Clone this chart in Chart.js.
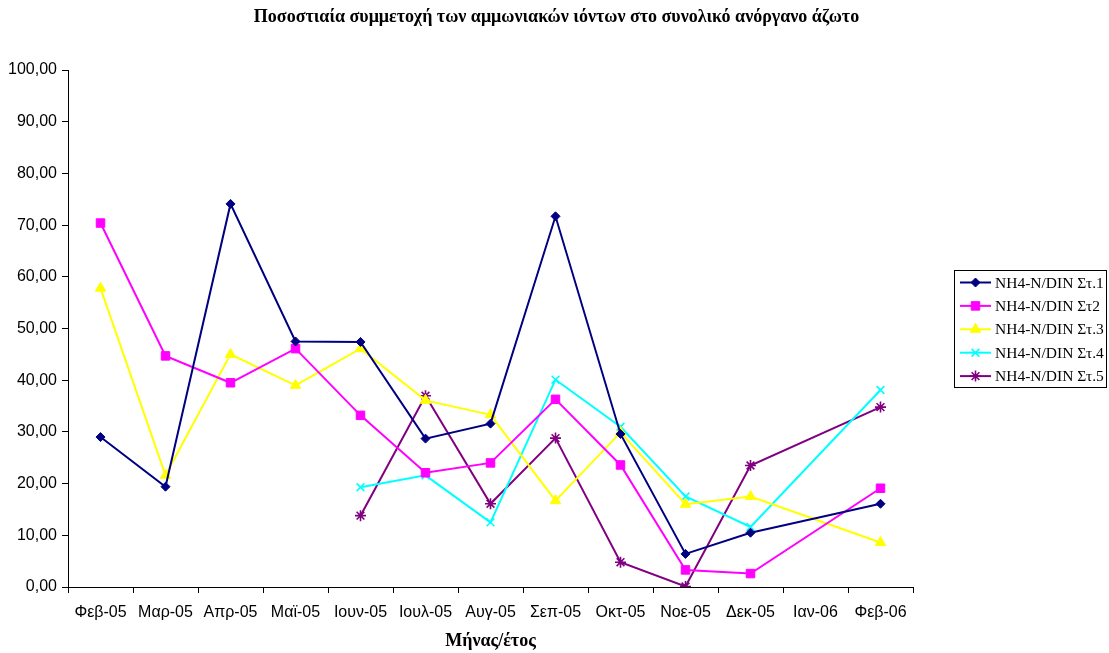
<!DOCTYPE html>
<html>
<head>
<meta charset="utf-8">
<title>NH4-N/DIN</title>
<script src="https://cdn.jsdelivr.net/npm/chart.js@4/dist/chart.umd.min.js"></script>
<style>
  html, body { margin: 0; padding: 0; background: #ffffff; }
  #wrap { width: 1109px; height: 653px; position: relative; }
</style>
</head>
<body>
<div id="wrap"><canvas id="c" width="1109" height="653"></canvas></div>
<script>
// Months (month/year) on the category axis
const months = ['Φεβ-05', 'Μαρ-05', 'Απρ-05', 'Μαϊ-05', 'Ιουν-05', 'Ιουλ-05', 'Αυγ-05',
                'Σεπ-05', 'Οκτ-05', 'Νοε-05', 'Δεκ-05', 'Ιαν-06', 'Φεβ-06'];

// Percentage of ammonium in total dissolved inorganic nitrogen, per station
const st1 = [29.0, 19.4, 74.1, 47.5, 47.4, 28.7, 31.6, 71.7, 29.6, 6.4, 10.5, null, 16.1];
const st2 = [70.4, 44.7, 39.5, 46.1, 33.2, 22.1, 24.0, 36.3, 23.6, 3.3, 2.6, null, 19.1];
const st3 = [57.8, 21.6, 45.0, 39.0, 46.1, 36.1, 33.3, 16.7, 29.9, 16.0, 17.5, null, 8.6];
const st4 = [null, null, null, null, 19.3, 21.6, 12.5, 40.1, 31.0, 17.5, 11.6, null, 38.1];
const st5 = [null, null, null, null, 13.8, 37.0, 16.1, 28.8, 4.8, 0.1, 23.5, null, 34.8];

const seriesNames = ['NH4-N/DIN Στ.1', 'NH4-N/DIN Στ2', 'NH4-N/DIN Στ.3', 'NH4-N/DIN Στ.4', 'NH4-N/DIN Στ.5'];

const yTicks = { min: 0, max: 100, step: 10 };

const chartTitle = 'Ποσοστιαία συμμετοχή των αμμωνιακών ιόντων στο συνολικό ανόργανο άζωτο';
const xAxisTitle = 'Μήνας/έτος';

const SERIF = '"Liberation Serif", "Times New Roman", serif';
const SANS = '"Liberation Sans", Arial, sans-serif';

const styles = [
  { color: '#000080', pointStyle: 'rectRot', radius: 4.5, pointBorderWidth: 1 },
  { color: '#FF00FF', pointStyle: 'rect', radius: 6, pointBorderWidth: 1 },
  { color: '#FFFF00', pointStyle: 'triangle', radius: 6, pointBorderWidth: 1 },
  { color: '#00FFFF', pointStyle: 'crossRot', radius: 5.5, pointBorderWidth: 1.6 },
  { color: '#800080', pointStyle: 'star', radius: 5.5, pointBorderWidth: 1.6 }
];

const values = [st1, st2, st3, st4, st5];

const datasets = values.map((data, i) => ({
  label: seriesNames[i],
  data: data,
  borderColor: styles[i].color,
  backgroundColor: styles[i].color,
  pointBackgroundColor: styles[i].color,
  pointBorderColor: styles[i].color,
  pointStyle: styles[i].pointStyle,
  pointRadius: styles[i].radius,
  pointHoverRadius: styles[i].radius,
  pointBorderWidth: styles[i].pointBorderWidth,
  borderWidth: 2,
  tension: 0,
  spanGaps: true,
  fill: false
}));

// Title, x-axis title and the boxed legend on the right
const decorations = {
  id: 'decorations',
  afterDraw(chart) {
    const ctx = chart.ctx;
    const area = chart.chartArea;
    ctx.save();
    ctx.fillStyle = '#000000';
    ctx.textAlign = 'center';
    ctx.textBaseline = 'middle';
    ctx.font = 'bold 18px ' + SERIF;
    ctx.fillText(chartTitle, chart.width / 2 + 2, 17);
    ctx.font = 'bold 18px ' + SERIF;
    ctx.fillText(xAxisTitle, (area.left + area.right) / 2, area.bottom + 54);

    // legend
    const box = { x: 954.5, y: 270.5, w: 152, h: 117 };
    ctx.fillStyle = '#ffffff';
    ctx.fillRect(box.x, box.y, box.w, box.h);
    ctx.strokeStyle = '#000000';
    ctx.lineWidth = 1;
    ctx.strokeRect(box.x, box.y, box.w, box.h);
    const rowH = 23.4;
    const y0 = box.y + 12;
    ctx.textAlign = 'left';
    ctx.font = '15.5px ' + SERIF;
    chart.data.datasets.forEach((ds, i) => {
      const y = y0 + i * rowH;
      ctx.strokeStyle = ds.borderColor;
      ctx.lineWidth = 2;
      ctx.beginPath();
      ctx.moveTo(960, y);
      ctx.lineTo(991, y);
      ctx.stroke();
      ctx.fillStyle = ds.pointBackgroundColor;
      ctx.strokeStyle = ds.pointBorderColor;
      ctx.lineWidth = ds.pointBorderWidth;
      Chart.helpers.drawPoint(ctx, {
        pointStyle: ds.pointStyle,
        radius: ds.pointRadius,
        rotation: 0,
        borderWidth: ds.pointBorderWidth
      }, 975.5, y);
      ctx.fillStyle = '#000000';
      ctx.fillText(ds.label, 995, y + 1);
    });
    ctx.restore();
  }
};

new Chart(document.getElementById('c'), {
  type: 'line',
  data: { labels: months, datasets: datasets },
  options: {
    responsive: false,
    animation: false,
    devicePixelRatio: 1,
    layout: { padding: { left: 0, right: 196, top: 70, bottom: 0 } },
    plugins: {
      legend: { display: false },
      title: { display: false },
      tooltip: { enabled: false }
    },
    scales: {
      x: {
        type: 'category',
        offset: true,
        afterFit(scale) { scale.height = 66; },
        grid: {
          offset: true,
          drawOnChartArea: false,
          drawTicks: true,
          tickLength: 6,
          color: '#000000',
          lineWidth: 1
        },
        border: { display: true, color: '#000000', width: 1 },
        ticks: {
          color: '#000000',
          font: { family: SANS, size: 16 },
          padding: 10,
          maxRotation: 0,
          autoSkip: false
        }
      },
      y: {
        min: yTicks.min,
        max: yTicks.max,
        afterFit(scale) { scale.width = 68; },
        grid: {
          drawOnChartArea: false,
          drawTicks: true,
          tickLength: 6,
          color: '#000000',
          lineWidth: 1
        },
        border: { display: true, color: '#000000', width: 1 },
        ticks: {
          stepSize: yTicks.step,
          color: '#000000',
          font: { family: SANS, size: 16 },
          padding: 5,
          callback: (v) => Number(v).toFixed(2).replace('.', ',')
        }
      }
    }
  },
  plugins: [decorations]
});
</script>
</body>
</html>
